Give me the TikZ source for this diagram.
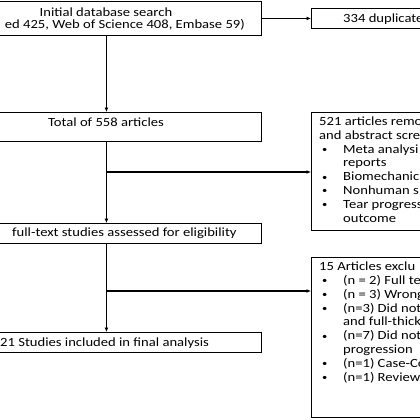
\documentclass[tikz,border=0pt]{standalone}
\usepackage{fontspec}
\setmainfont{Carlito}[FakeStretch=1.17]
\usetikzlibrary{arrows.meta}
\newcommand{\bul}{\hspace*{3pt}\makebox[21pt][l]{\raisebox{0.6pt}{\fontsize{9}{9}\selectfont•}}}
\newcommand{\cont}{\hspace*{24pt}}
\begin{document}
\begin{tikzpicture}[x=1pt,y=-1pt,
  box/.style={draw=black, line width=0.9pt, rectangle, inner sep=0pt, anchor=north west},
  txt/.style={inner sep=0pt, font=\fontsize{12.5}{13.8}\selectfont, text=black},
  lst/.style={txt, align=left, anchor=base west},
  arr/.style={line width=1.1pt, -{Latex[length=4.5pt,width=4pt]}},
  ]
\useasboundingbox (0,0) rectangle (420,420);
\clip (0,0) rectangle (420,420);
\fill[white] (0,0) rectangle (420,420);
% left column boxes (centre x = 106)
\node[box, minimum width=310pt, minimum height=34pt] (b1) at (-49,1) {};
\node[box, minimum width=310pt, minimum height=29pt] (b2) at (-49,112) {};
\node[box, minimum width=310pt, minimum height=19.5pt] (b5) at (-49,223) {};
\node[box, minimum width=310pt, minimum height=20pt] (b7) at (-49,332) {};
% right column boxes
\node[box, minimum width=200pt, minimum height=20pt] (b3) at (311,8) {};
\node[box, minimum width=200pt, minimum height=118pt] (b4) at (311,112) {};
\node[box, minimum width=200pt, minimum height=160pt] (b6) at (311,257) {};
% texts
\node[txt] (t1a) at (106,12) {Initial database search};
\node[txt, anchor=east] (t1b) at (245,25) {ed 425, Web of Science 408, Embase 59)};
\node[txt] (t2) at (106,122) {Total of 558 articles};
\node[txt, anchor=west] (t5) at (12,233) {full-text studies assessed for eligibility};
\node[txt, anchor=west] (t7) at (0,343) {21 Studies included in final analysis};
\node[txt, anchor=west] (t3) at (343,19) {334 duplicate};
\node[lst] (t4) at (319,222) {521 articles remo\\and abstract scre\\
\bul Meta analysi\\
\cont reports\\
\bul Biomechanic\\
\bul Nonhuman s\\
\bul Tear progress\\
\cont outcome};
\node[lst] (t6) at (319,381) {15 Articles exclu\\
\bul (n = 2) Full te\\
\bul (n = 3) Wrong\\
\bul (n=3) Did not\\
\cont and full-thick\\
\bul (n=7) Did not\\
\cont progression\\
\bul (n=1) Case-Co\\
\bul (n=1) Review};
% connectors
\draw[arr] (b1.south) -- (b2.north);
\draw[arr] (b1.east) -- (b3.west);
\draw[arr] (b2.south) -- (b5.north);
\coordinate (j1) at (106,172);
\draw[arr] (j1) -- (j1 -| b4.west);
\draw[arr] (b5.south) -- (b7.north);
\coordinate (j2) at (106,291);
\draw[arr] (j2) -- (j2 -| b6.west);
\end{tikzpicture}
\end{document}
